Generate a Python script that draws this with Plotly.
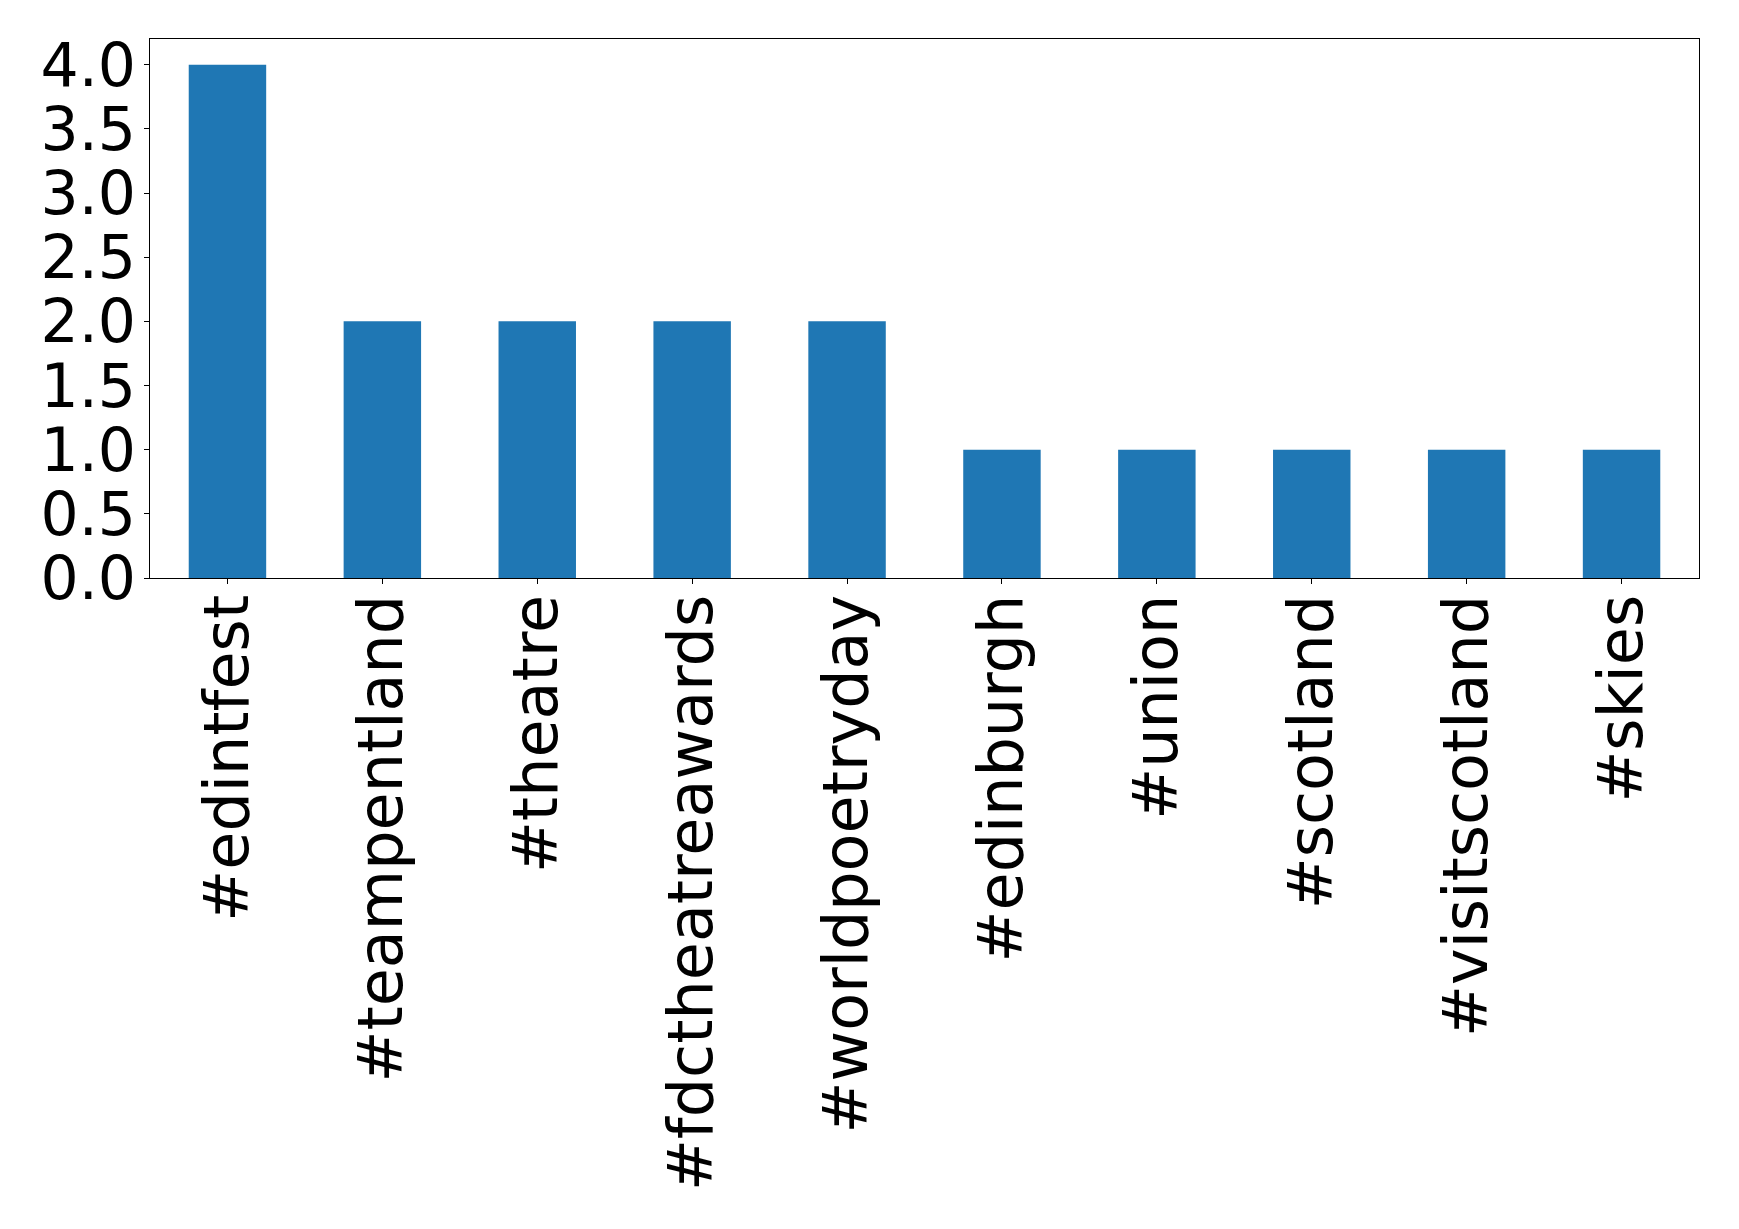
import plotly.graph_objects as go

categories = ["#edintfest", "#teampentland", "#theatre", "#fdctheatreawards",
              "#worldpoetryday", "#edinburgh", "#union", "#scotland",
              "#visitscotland", "#skies"]
counts = [4, 2, 2, 2, 2, 1, 1, 1, 1, 1]
y_ticks = [0.0, 0.5, 1.0, 1.5, 2.0, 2.5, 3.0, 3.5, 4.0]
y_tick_labels = ["0.0", "0.5", "1.0", "1.5", "2.0", "2.5", "3.0", "3.5", "4.0"]

fig = go.Figure(go.Bar(x=categories, y=counts, marker_color="#1f77b4",
                       marker_line_width=0, width=0.5))

# page body has an 8px default margin, so the figure is offset by 8px
fig.update_layout(
    width=1723, height=1213,
    margin=dict(l=141.5, r=31.7, t=31.3, b=643.3, pad=0),
    plot_bgcolor="white", paper_bgcolor="white",
    font=dict(family="DejaVu Sans", size=60, color="black"),
    showlegend=False,
)
fig.update_xaxes(
    range=[-0.5, 9.5], tickangle=-90, automargin=False,
    showline=True, linecolor="black", linewidth=1, mirror=True,
    ticks="outside", ticklen=5, tickwidth=1, tickcolor="black",
    showgrid=False, tickfont=dict(size=62, family="DejaVu Sans"),
    ticklabelstandoff=-14,
)
fig.update_yaxes(
    range=[0, 4.2], tickvals=y_ticks, ticktext=y_tick_labels, automargin=False,
    showline=True, linecolor="black", linewidth=1, mirror=True,
    ticks="outside", ticklen=5, tickwidth=1, tickcolor="black",
    showgrid=False, zeroline=False, tickfont=dict(size=60, family="DejaVu Sans"),
    ticklabelstandoff=-4,
)

fig.write_html("out.html")
